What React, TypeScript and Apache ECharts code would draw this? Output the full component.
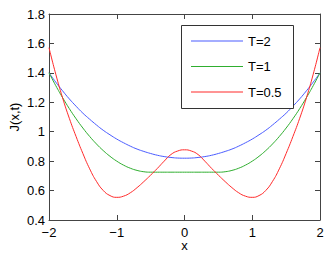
import React, { useEffect, useRef } from "react";
import * as echarts from "echarts";

const xs = [
  -2.0, -1.9, -1.8, -1.7, -1.6, -1.5, -1.4, -1.3, -1.2, -1.1, -1.0, -0.9, -0.8, -0.7, -0.6, -0.5, -0.4, -0.3, -0.2, -0.1,
  0.0, 0.1, 0.2, 0.3, 0.4, 0.5, 0.6, 0.7, 0.8, 0.9, 1.0, 1.1, 1.2, 1.3, 1.4, 1.5, 1.6, 1.7, 1.8, 1.9, 2.0,
];

const seriesNames = ["T=2", "T=1", "T=0.5"];

const jT2 = [
  1.4, 1.337, 1.278, 1.223, 1.173, 1.126, 1.085, 1.046, 1.01, 0.979, 0.95, 0.925, 0.902, 0.882, 0.866, 0.852, 0.84, 0.831, 0.825, 0.821,
  0.82, 0.821, 0.825, 0.831, 0.84, 0.852, 0.866, 0.882, 0.902, 0.925, 0.95, 0.979, 1.01, 1.046, 1.085, 1.126, 1.173, 1.223, 1.278, 1.337, 1.4,
];

const jT1 = [
  1.4, 1.313, 1.232, 1.157, 1.088, 1.025, 0.968, 0.917, 0.872, 0.833, 0.8, 0.773, 0.752, 0.737, 0.728, 0.725, 0.725, 0.725, 0.725, 0.725,
  0.725, 0.725, 0.725, 0.725, 0.725, 0.725, 0.728, 0.737, 0.752, 0.773, 0.8, 0.833, 0.872, 0.917, 0.968, 1.025, 1.088, 1.157, 1.232, 1.313, 1.4,
];

const jT05 = [
  1.571, 1.391, 1.231, 1.091, 0.967, 0.852, 0.748, 0.663, 0.601, 0.566, 0.554, 0.562, 0.585, 0.62, 0.661, 0.705, 0.751, 0.8, 0.845, 0.869,
  0.877, 0.869, 0.845, 0.8, 0.751, 0.705, 0.661, 0.62, 0.585, 0.562, 0.554, 0.566, 0.601, 0.663, 0.748, 0.852, 0.967, 1.091, 1.231, 1.391, 1.571,
];

const colors = ["#4a5cff", "#2fae2f", "#ff2a2a"];

const FONT = "'Liberation Sans', Arial, Helvetica, sans-serif";
const AXIS_COLOR = "#444";

export default function App() {
  const ref = useRef<HTMLDivElement>(null);

  useEffect(() => {
    if (!ref.current) return;
    const chart = echarts.init(ref.current, null, { renderer: "svg" });
    const allData = [jT2, jT1, jT05];

    const axisCommon = {
      axisLine: { show: true, onZero: false, lineStyle: { color: AXIS_COLOR, width: 1 } },
      axisTick: { show: true, inside: true, length: 5, lineStyle: { color: AXIS_COLOR, width: 1 } },
      splitLine: { show: false },
    };

    const legendX = 181;
    const legendY = 25;
    const legendItems: any[] = [];
    seriesNames.forEach((name, i) => {
      const cy = 41 + i * 25.5;
      legendItems.push({
        type: "line",
        shape: { x1: 191, y1: cy, x2: 243, y2: cy },
        style: { stroke: colors[i], lineWidth: 1.2 },
        z: 101,
      });
      legendItems.push({
        type: "text",
        x: 248,
        y: cy,
        style: {
          text: name,
          fill: "#000",
          font: `13px ${FONT}`,
          align: "left",
          verticalAlign: "middle",
        },
        z: 101,
      });
    });

    chart.setOption({
      animation: false,
      backgroundColor: "#ffffff",
      textStyle: { fontFamily: FONT },
      grid: { left: 49, top: 14, width: 271, height: 206, containLabel: false },
      xAxis: [
        {
          type: "value",
          min: -2,
          max: 2,
          interval: 1,
          position: "bottom",
          ...axisCommon,
          axisLabel: {
            color: "#000",
            fontSize: 13,
            lineHeight: 12,
            fontFamily: FONT,
            margin: 6,
            formatter: (v: number) => (v < 0 ? "\u2212" + Math.abs(v) : String(v)),
          },
        },
        {
          type: "value",
          min: -2,
          max: 2,
          interval: 1,
          position: "top",
          ...axisCommon,
          axisLabel: { show: false },
        },
      ],
      yAxis: [
        {
          type: "value",
          min: 0.4,
          max: 1.8,
          interval: 0.2,
          position: "left",
          ...axisCommon,
          axisLabel: { color: "#000", fontSize: 13, fontFamily: FONT, margin: 4 },
        },
        {
          type: "value",
          min: 0.4,
          max: 1.8,
          interval: 0.2,
          position: "right",
          ...axisCommon,
          axisLabel: { show: false },
        },
      ],
      graphic: [
        {
          type: "rect",
          shape: { x: legendX + 0.5, y: legendY + 0.5, width: 112, height: 83 },
          style: { fill: "#fff", stroke: "#333", lineWidth: 1 },
          z: 100,
        },
        ...legendItems,
        {
          type: "text",
          x: 14,
          y: 117,
          rotation: Math.PI / 2,
          style: {
            text: "J(x,t)",
            fill: "#000",
            font: `13px ${FONT}`,
            align: "center",
            verticalAlign: "middle",
          },
        },
        {
          type: "text",
          x: 184.5,
          y: 245,
          style: {
            text: "x",
            fill: "#000",
            font: `13px ${FONT}`,
            lineHeight: 9,
            align: "center",
            verticalAlign: "middle",
          },
        },
      ],
      series: seriesNames.map((name, i) => ({
        name,
        type: "line",
        xAxisIndex: 0,
        yAxisIndex: 0,
        data: xs.map((x, j) => [x, allData[i][j]]),
        smooth: true,
        symbol: "none",
        showSymbol: false,
        color: colors[i],
        lineStyle: { color: colors[i], width: 1 },
      })),
    });

    return () => chart.dispose();
  }, []);

  return (
    <div
      ref={ref}
      style={{ position: "fixed", left: 0, top: 0, width: 329, height: 262, background: "#fff" }}
    />
  );
}
